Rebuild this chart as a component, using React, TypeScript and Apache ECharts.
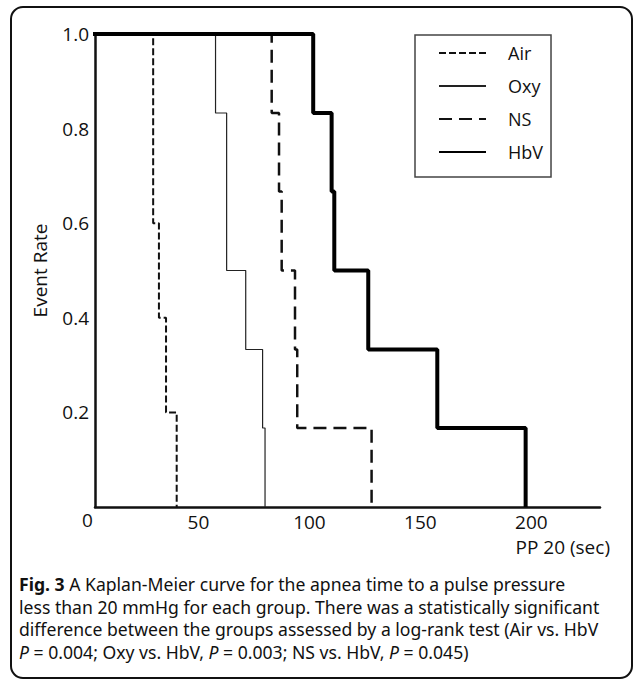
import React, { useEffect, useRef } from "react";
import * as echarts from "echarts";

// ---- data ----
const seriesNames = ["Air", "Oxy", "NS", "HbV"];
const airTimes = [0, 29.6, 32.2, 35.4, 40.2];
const airRates = [1, 0.6, 0.4, 0.2, 0];
const oxyTimes = [0, 57.7, 62.7, 71.3, 78.9, 80];
const oxyRates = [1, 0.833, 0.5, 0.333, 0.167, 0];
const nsTimes = [0, 83, 86.3, 87.5, 93.5, 94.5, 128];
const nsRates = [1, 0.833, 0.667, 0.5, 0.333, 0.167, 0];
const hbvTimes = [0, 101.7, 110, 111.2, 126.5, 157.6, 197.4];
const hbvRates = [1, 0.833, 0.667, 0.5, 0.333, 0.167, 0];
const xTickValues = [50, 100, 150, 200];
const xOriginLabel = "0";
const xAxisName = "PP 20 (sec)";
const yAxisName = "Event Rate";
const captionLines = [
  "{b|Fig. 3} A Kaplan-Meier curve for the apnea time to a pulse pressure",
  "less than 20 mmHg for each group. There was a statistically significant",
  "difference between the groups assessed by a log-rank test (Air vs. HbV",
  "{i|P} = 0.004; Oxy vs. HbV, {i|P} = 0.003; NS vs. HbV, {i|P} = 0.045)",
];
// widths of the caption lines in the reference (px), used only to size the font
const captionTargetWidths = [582, 597, 595, 452];

const FONT = '"Open Sans", "Noto Sans", sans-serif';
const CAPTION_FONTS = ["Open Sans", "Lato", "Liberation Sans", "Roboto", "Noto Sans", "Inter"];

const pairs = (xs: number[], ys: number[]) => xs.map((x, i) => [x, ys[i]]);

function pickCaptionFont() {
  const ctx = document.createElement("canvas").getContext("2d");
  if (!ctx) return { family: "Open Sans", size: 18 };
  let best = { family: "Open Sans", size: 18, err: Infinity };
  for (const fam of CAPTION_FONTS) {
    const widths = captionLines.map((line) => {
      const parts = line.split(/(\{[bi]\|[^}]*\})/).filter((p) => p.length);
      let w = 0;
      for (const p of parts) {
        const m = p.match(/^\{([bi])\|([^}]*)\}$/);
        if (m) {
          ctx.font = `${m[1] === "b" ? "bold" : "italic"} 100px "${fam}"`;
          w += ctx.measureText(m[2]).width;
        } else {
          ctx.font = `100px "${fam}"`;
          w += ctx.measureText(p).width;
        }
      }
      return w / 100;
    });
    let size = Infinity;
    widths.forEach((w, i) => (size = Math.min(size, captionTargetWidths[i] / w)));
    size = Math.min(size, 19.5);
    let err = 0;
    widths.forEach((w, i) => (err += Math.abs(w * size - captionTargetWidths[i])));
    if (err < best.err) best = { family: fam, size, err };
  }
  return best;
}

export default function App() {
  const ref = useRef<HTMLDivElement>(null);
  useEffect(() => {
    document.body.style.margin = "0";
    const chart = echarts.init(ref.current!, null, { renderer: "svg" });
    const cap = pickCaptionFont();
    const capFont = `"${cap.family}", sans-serif`;
    const capSize = Math.floor(cap.size * 10) / 10;
    const capLineH = 22.7;
    const lineSeries = (
      name: string,
      data: number[][],
      color: string,
      width: number,
      type: any
    ) => ({
      type: "line",
      name,
      data,
      step: "end",
      symbol: "none",
      clip: true,
      itemStyle: { color },
      lineStyle: { color, width, type },
      emphasis: { disabled: true },
    });
    chart.setOption({
      animation: false,
      textStyle: { fontFamily: FONT },
      grid: {
        left: 95,
        right: 36,
        top: 34,
        bottom: 175,
        outerBoundsMode: "none",
      },
      legend: {
        orient: "vertical",
        left: 415,
        top: 35,
        padding: [8, 8, 15, 23],
        borderColor: "#444",
        borderWidth: 1.5,
        itemWidth: 47,
        itemHeight: 14,
        itemGap: 13,
        selectedMode: false,
        itemStyle: {
          color: "transparent",
          borderColor: "transparent",
          borderWidth: 0,
          opacity: 0,
        },
        textStyle: {
          fontFamily: FONT,
          fontSize: 18,
          color: "#111",
          padding: [0, 0, 0, 17],
          lineHeight: 20,
        },
        data: seriesNames,
      },
      xAxis: {
        type: "value",
        min: 3.4,
        max: 230.9,
        name: xAxisName,
        nameLocation: "end",
        nameGap: 10,
        nameTextStyle: {
          fontFamily: FONT,
          fontSize: 19,
          color: "#111",
          align: "right",
          verticalAlign: "top",
          padding: [30, 0, 0, 0],
        },
        axisLine: { show: true, lineStyle: { color: "#111", width: 2.5 } },
        axisTick: { show: false },
        splitLine: { show: false },
        axisLabel: {
          customValues: xTickValues,
          fontFamily: FONT,
          fontSize: 19,
          color: "#111",
          margin: 5,
        },
      },
      yAxis: {
        type: "value",
        min: 0,
        max: 1,
        interval: 0.2,
        name: yAxisName,
        nameLocation: "middle",
        nameGap: 46,
        nameTextStyle: { fontFamily: FONT, fontSize: 19, color: "#111" },
        axisLine: { show: true, lineStyle: { color: "#111", width: 2.5 } },
        axisTick: { show: false },
        splitLine: { show: false },
        axisLabel: {
          fontFamily: FONT,
          fontSize: 19,
          color: "#111",
          margin: 6,
          formatter: (v: number) => (v === 0 ? "" : v.toFixed(1)),
        },
      },
      series: [
        lineSeries("Air", pairs(airTimes, airRates), "#111", 2, [7, 3]),
        lineSeries("Oxy", pairs(oxyTimes, oxyRates), "#222", 1.2, "solid"),
        lineSeries("NS", pairs(nsTimes, nsRates), "#111", 2.5, [13, 7]),
        lineSeries("HbV", pairs(hbvTimes, hbvRates), "#000", 4, "solid"),
      ],
      graphic: [
        {
          type: "rect",
          shape: { x: 11, y: 7, width: 621, height: 671, r: 12 },
          style: { fill: "none", stroke: "#111", lineWidth: 2 },
          silent: true,
        },
        {
          type: "text",
          x: 87.5,
          y: 520,
          style: {
            text: xOriginLabel,
            font: `19px ${FONT}`,
            fill: "#111",
            align: "center",
            verticalAlign: "middle",
          },
        },
        ...captionLines.map((line, i) => ({
          type: "text",
          x: 19,
          y: 584 + i * capLineH,
          style: {
            text: line,
            font: `${capSize}px ${capFont}`,
            fill: "#111",
            align: "left",
            verticalAlign: "middle",
            rich: {
              b: { fontWeight: "bold", fontSize: capSize, fontFamily: capFont },
              i: { fontStyle: "italic", fontSize: capSize, fontFamily: capFont },
            },
          },
        })),
      ],
    });
    return () => chart.dispose();
  }, []);
  return <div ref={ref} style={{ width: 636, height: 682 }} />;
}
